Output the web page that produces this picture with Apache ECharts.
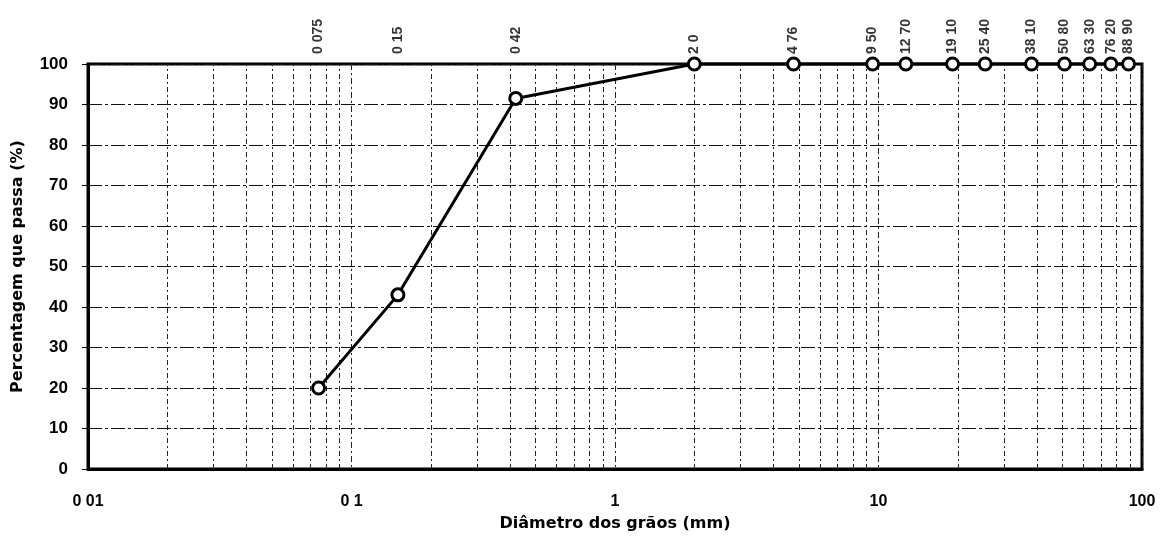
<!DOCTYPE html>
<html>
<head>
<meta charset="utf-8">
<script src="https://cdn.jsdelivr.net/npm/echarts@6/dist/echarts.min.js"></script>
<style>
  html, body { margin: 0; padding: 0; background: #fff; }
  #chart { width: 1172px; height: 537px; }
</style>
</head>
<body>
<div id="chart"></div>
<script>
// abertura das peneiras (mm) e percentagem que passa
var sieveSizes = [0.075, 0.15, 0.42, 2.0, 4.76, 9.5, 12.7, 19.1, 25.4, 38.1, 50.8, 63.3, 76.2, 88.9];
var passing = [20, 43, 91.5, 100, 100, 100, 100, 100, 100, 100, 100, 100, 100, 100];
var sieveLabels = ['0 075', '0 15', '0 42', '2 0', '4 76', '9 50', '12 70', '19 10', '25 40', '38 10', '50 80', '63 30', '76 20', '88 90'];

var xTickValues = [0.01, 0.1, 1, 10, 100];
var xTickLabels = ['0 01', '0 1', '1', '10', '100'];

// linhas verticais secundarias (escala log)
var minorGridX = [0.02, 0.03, 0.04, 0.05, 0.06, 0.07, 0.08, 0.09,
                  0.2, 0.3, 0.4, 0.5, 0.6, 0.7, 0.8, 0.9,
                  2, 3, 4, 5, 6, 7, 8, 9,
                  20, 30, 40, 50, 60, 70, 80, 90];

var myChart = echarts.init(document.getElementById('chart'));

var curve = sieveSizes.map(function (d, i) { return [d, passing[i]]; });
var labelPoints = sieveSizes.map(function (d, i) { return { value: [d, 100], label: { formatter: sieveLabels[i] } }; });

myChart.setOption({
    animation: false,
    textStyle: { fontFamily: 'Liberation Sans, Arial, sans-serif', color: '#000' },
    grid: {
        left: 88, right: 30, top: 64, bottom: 68,
        outerBoundsMode: 'none',
        show: true,
        borderColor: '#000',
        borderWidth: 3
    },
    xAxis: {
        type: 'log',
        logBase: 10,
        min: 0.01,
        max: 100,
        name: 'Diâmetro dos grãos (mm)',
        nameLocation: 'middle',
        nameGap: 47,
        nameTextStyle: { fontFamily: 'DejaVu Sans', fontSize: 16, fontWeight: 'bold', color: '#000' },
        axisLine: { show: true, lineStyle: { color: '#000', width: 3 } },
        axisTick: { show: false },
        axisLabel: {
            margin: 25,
            fontSize: 16,
            fontWeight: 'bold',
            color: '#000',
            formatter: function (v) {
                for (var i = 0; i < xTickValues.length; i++) {
                    if (Math.abs(v - xTickValues[i]) < xTickValues[i] * 1e-6) return xTickLabels[i];
                }
                return '';
            }
        },
        splitLine: { show: true, lineStyle: { color: '#222', width: 1, type: [6, 3, 2, 3] } }
    },
    yAxis: {
        type: 'value',
        min: 0,
        max: 100,
        interval: 10,
        name: 'Percentagem que passa (%)',
        nameLocation: 'middle',
        nameGap: 62,
        nameTextStyle: { fontFamily: 'DejaVu Sans', fontSize: 16, fontWeight: 'bold', color: '#000' },
        axisLine: { show: true, lineStyle: { color: '#000', width: 3 } },
        axisTick: { show: true, length: 6, lineStyle: { color: '#000', width: 1 } },
        axisLabel: { margin: 20, fontSize: 17, fontWeight: 'bold', color: '#000' },
        splitLine: { show: true, lineStyle: { color: '#111', width: 1, type: [14, 3, 3, 3] } }
    },
    series: [
        {
            name: 'grade',
            type: 'line',
            data: [],
            silent: true,
            markLine: {
                silent: true,
                symbol: ['none', 'none'],
                label: { show: false },
                lineStyle: { color: '#222', width: 1, type: [5, 3, 2, 3] },
                data: minorGridX.map(function (v) { return { xAxis: v }; })
            }
        },
        {
            name: 'curva',
            type: 'line',
            data: curve,
            clip: false,
            z: 5,
            symbol: 'circle',
            symbolSize: 12,
            itemStyle: { color: '#fff', borderColor: '#000', borderWidth: 3 },
            lineStyle: { color: '#000', width: 3 }
        },
        {
            name: 'peneiras',
            type: 'scatter',
            data: labelPoints,
            symbolSize: 0,
            clip: false,
            silent: true,
            label: {
                show: true,
                position: 'top',
                distance: 10,
                rotate: 90,
                align: 'left',
                verticalAlign: 'middle',
                fontSize: 14,
                fontWeight: 'bold',
                color: '#000'
            }
        }
    ]
});
</script>
</body>
</html>
